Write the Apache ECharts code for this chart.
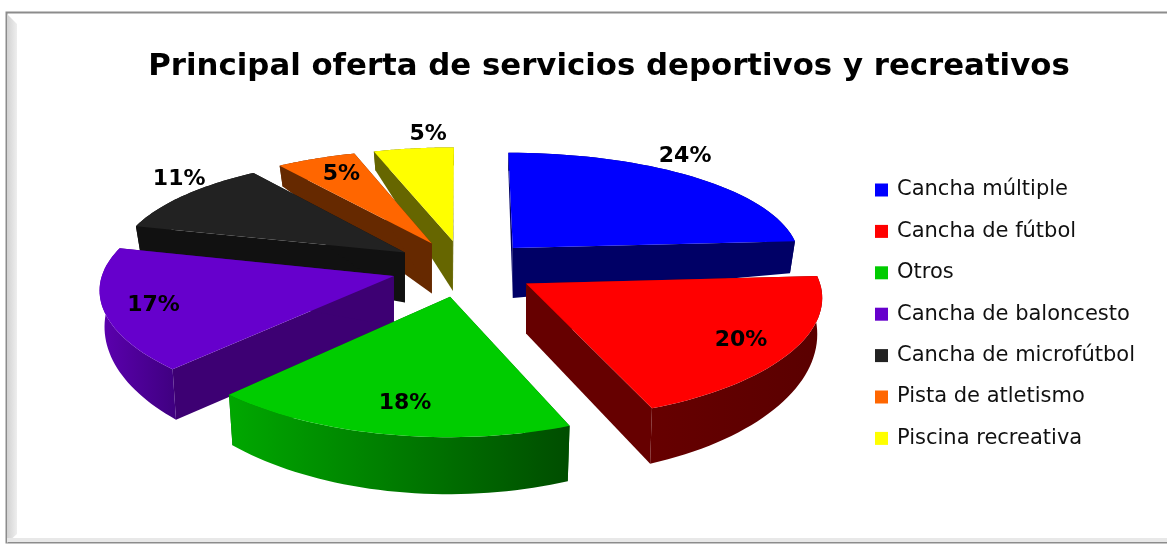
<!DOCTYPE html>
<html>
<head>
<meta charset="utf-8">
<style>html,body{margin:0;background:#fff}#chart{width:1167px;height:544px}</style>
<script src="https://cdn.jsdelivr.net/npm/echarts@6/dist/echarts.min.js"></script>
</head>
<body>
<div id="chart"></div>
<script>
const categories = ['Cancha múltiple', 'Cancha de fútbol', 'Otros', 'Cancha de baloncesto', 'Cancha de microfútbol', 'Pista de atletismo', 'Piscina recreativa']
const shares = [24, 20, 18, 17, 11, 5, 5]

const topColors = ['#0000ff', '#ff0000', '#00cc00', '#6600cc', '#222222', '#ff6600', '#ffff00']
const wallColors = ['#000066', '#660000', '#006600', '#3d0073', '#111111', '#662900', '#666600']
// 外弧面的左右渐变色（只有前面的几块看得到）
const arcColors = [['#000066', '#000066'], ['#660000', '#5a0000'], ['#00a800', '#004d00'], ['#5c00b0', '#3f0080'], ['#111111', '#111111'], ['#662900', '#662900'], ['#666600', '#666600']]
// 绘制顺序：从后往前
const drawOrder = [6, 5, 4, 0, 3, 1, 2]
// 标签相对扇面中线的径向位置和角度偏移（度）
const labelRadius = [1.177, 0.824, 0.796, 0.834, 1.137, 0.796, 1.17]
const labelTurn = [-8, 1, -1, -1, 6.5, 1, 4]

const CX = 464, CY = 268, R = 290, H = 113, PERSP_X = 0.1, PERSP_Y = 0.135, EXPLODE = 0.25

const total = shares.reduce((a, b) => a + b, 0)
const startAngle = i => shares.slice(0, i).reduce((a, b) => a + b, 0) / total * Math.PI * 2

// 圆盘坐标 -> 屏幕坐标，带一点透视
function topPoint(u, v, ox, oy) {
  const du = u + ox, dv = v + oy
  return [CX + R * du / (1 + PERSP_X * dv), CY - H * dv / (1 + PERSP_Y * dv)]
}
// 底面相对顶面的偏移，按原图量出来的厚度
function bottomPoint(u, v, ox, oy) {
  const p = topPoint(u, v, ox, oy)
  const r2 = u * u + v * v
  const dz = 50 - 17 * r2 + (v > 0 ? -15 * v : -24 * v)
  return [p[0] - 5 * u, p[1] + dz]
}

function renderSlice(params, api) {
  const i = params.seriesIndex
  const a0 = startAngle(i)
  const a1 = a0 + api.value(0) / total * Math.PI * 2
  const mid = (a0 + a1) / 2
  const ox = EXPLODE * Math.sin(mid), oy = EXPLODE * Math.cos(mid)

  const arc = []
  const steps = 40
  for (let k = 0; k <= steps; k++) {
    const a = a0 + (a1 - a0) * k / steps
    arc.push([Math.sin(a), Math.cos(a)])
  }
  const first = arc[0], last = arc[steps]

  const topPts = [topPoint(0, 0, ox, oy), ...arc.map(p => topPoint(p[0], p[1], ox, oy))]
  const outer = [...arc.map(p => topPoint(p[0], p[1], ox, oy)), ...arc.slice().reverse().map(p => bottomPoint(p[0], p[1], ox, oy))]
  const cut = p => [topPoint(0, 0, ox, oy), topPoint(p[0], p[1], ox, oy), bottomPoint(p[0], p[1], ox, oy), bottomPoint(0, 0, ox, oy)]

  const la = mid + labelTurn[i] * Math.PI / 180
  const lp = topPoint(Math.sin(la) * labelRadius[i], Math.cos(la) * labelRadius[i], ox, oy)

  const arcFill = new echarts.graphic.LinearGradient(0, 0, 1, 0, [
    { offset: 0, color: arcColors[i][0] }, { offset: 1, color: arcColors[i][1] }
  ])

  return {
    type: 'group',
    children: [
      { type: 'polygon', shape: { points: cut(first) }, style: { fill: wallColors[i] } },
      { type: 'polygon', shape: { points: cut(last) }, style: { fill: wallColors[i] } },
      { type: 'polygon', shape: { points: outer }, style: { fill: arcFill } },
      { type: 'polygon', shape: { points: topPts }, style: { fill: topColors[i] } },
      {
        type: 'text', z2: 10,
        style: {
          x: lp[0], y: lp[1], text: api.value(0) + '%', align: 'center', verticalAlign: 'middle',
          fill: '#000', font: 'bold 22px "DejaVu Sans"'
        }
      }
    ]
  }
}

const chart = echarts.init(document.getElementById('chart'), null, { renderer: 'canvas' })
chart.setOption({
  animation: false,
  backgroundColor: '#fff',
  title: {
    text: 'Principal oferta de servicios deportivos y recreativos',
    left: 604, top: 46, textAlign: 'center',
    textStyle: { fontFamily: 'DejaVu Sans', fontWeight: 'bold', fontSize: 30.8, color: '#000' }
  },
  legend: {
    orient: 'vertical', left: 870, top: 174.5, itemWidth: 13, itemHeight: 13, itemGap: 20.4,
    icon: 'rect', data: categories, selectedMode: false,
    textStyle: { fontFamily: 'DejaVu Sans', fontSize: 21, color: '#111', lineHeight: 21, padding: [0, 0, 0, 4] }
  },
  graphic: [
    { type: 'rect', z: -1, shape: { x: 6.5, y: 12.5, width: 1170, height: 530 }, style: { fill: '#fff', stroke: '#8c8c8c', lineWidth: 2 } },
    {
      type: 'polygon', z: -1, shape: { points: [[7, 14], [17, 24], [17, 534], [7, 543]] },
      style: { fill: new echarts.graphic.LinearGradient(0, 0, 1, 0, [{ offset: 0, color: '#d2d2d2' }, { offset: 1, color: '#eeeeee' }]) }
    },
    { type: 'rect', z: -1, shape: { x: 7, y: 538, width: 1160, height: 4 }, style: { fill: '#e8e8e8' } }
  ],
  series: categories.map((name, i) => ({
    type: 'custom', name, coordinateSystem: 'none', silent: true,
    z: 2 + drawOrder.indexOf(i),
    itemStyle: { color: topColors[i] },
    renderItem: renderSlice,
    data: [[shares[i]]]
  }))
})
</script>
</body>
</html>
